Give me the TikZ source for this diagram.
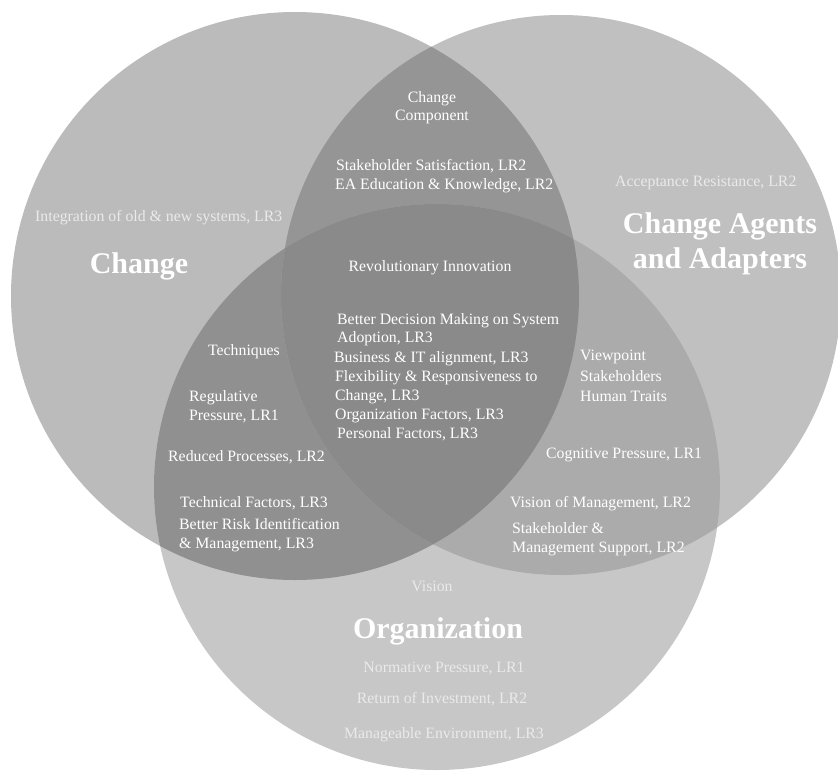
\documentclass[tikz,border=0pt]{standalone}
\usepackage{fontspec}
\setmainfont{Liberation Serif}
\definecolor{cL}{HTML}{BBBBBB}
\definecolor{cR}{HTML}{C0C0C0}
\definecolor{cB}{HTML}{C7C7C7}
\definecolor{cLR}{HTML}{959595}
\definecolor{cLB}{HTML}{909090}
\definecolor{cRB}{HTML}{ABABAB}
\definecolor{cLRB}{HTML}{8A8A8A}
\definecolor{faintwhite}{HTML}{EAEAEA}
\tikzset{
  txt/.style={text=white, font=\fontsize{15.8}{18}\selectfont, inner sep=0pt, yshift=-2.5pt},
  faint/.style={txt, text=faintwhite},
  ttl/.style={text=white, font=\fontsize{30}{36}\selectfont\bfseries, inner sep=0pt, yshift=-5pt},
  lft/.style={anchor=mid west},
  ctr/.style={anchor=mid}
}
\begin{document}
\begin{tikzpicture}[x=1pt,y=-1pt]
\useasboundingbox (0,0) rectangle (838,771);
\clip (0,0) rectangle (838,771);
\fill[white] (0,0) rectangle (838,771);
\coordinate (cl) at (295,296);
\coordinate (cr) at (561,295);
\coordinate (cb) at (437,487);
% single circles
\fill[cL] (cl) circle[radius=284pt];
\fill[cR] (cr) circle[radius=280pt];
\fill[cB] (cb) circle[radius=283pt];
% pairwise overlaps
\begin{scope}
  \clip (cl) circle[radius=284pt];
  \fill[cLR] (cr) circle[radius=280pt];
\end{scope}
\begin{scope}
  \clip (cl) circle[radius=284pt];
  \fill[cLB] (cb) circle[radius=283pt];
\end{scope}
\begin{scope}
  \clip (cr) circle[radius=280pt];
  \fill[cRB] (cb) circle[radius=283pt];
\end{scope}
% triple overlap
\begin{scope}
  \clip (cl) circle[radius=284pt];
  \clip (cr) circle[radius=280pt];
  \fill[cLRB] (cb) circle[radius=283pt];
\end{scope}

% titles
\node[ttl, ctr] (tChange) at (139,266) {Change};
\node[ttl, ctr] (tAg1) at (720,226) {Change Agents};
\node[ttl, ctr] (tAg2) at (720,261) {and Adapters};
\node[ttl, ctr] (tOrg) at (438,631) {Organization};

% top overlap
\node[txt, ctr] (cc1) at (432,98) {Change};
\node[txt, ctr] (cc2) at (432,116) {Component};
\node[txt, lft] (s1) at (336,166) {Stakeholder Satisfaction, LR2};
\node[txt, lft] (s2) at (335,185) {EA Education \& Knowledge, LR2};

% single regions
\node[faint, lft] (integ) at (35,217) {Integration of old \& new systems, LR3};
\node[faint, lft] (acc) at (615,182) {Acceptance Resistance, LR2};

% centre
\node[txt, ctr] (rev) at (430,267) {Revolutionary Innovation};
\node[txt, lft] (c1) at (337,320) {Better Decision Making on System};
\node[txt, lft] (c2) at (337,338) {Adoption, LR3};
\node[txt, lft] (c3) at (334,358) {Business \& IT alignment, LR3};
\node[txt, lft] (c4) at (335,377) {Flexibility \& Responsiveness to};
\node[txt, lft] (c5) at (335,396) {Change, LR3};
\node[txt, lft] (c6) at (335,415) {Organization Factors, LR3};
\node[txt, lft] (c7) at (337,434) {Personal Factors, LR3};

% left-bottom overlap
\node[txt, ctr] (techn) at (244,351) {Techniques};
\node[txt, lft] (reg1) at (189,397) {Regulative};
\node[txt, lft] (reg2) at (189,416) {Pressure, LR1};
\node[txt, lft] (red) at (168,457) {Reduced Processes, LR2};
\node[txt, lft] (tech) at (180,503) {Technical Factors, LR3};
\node[txt, lft] (risk1) at (179,525) {Better Risk Identification};
\node[txt, lft] (risk2) at (179,544) {\& Management, LR3};

% right-bottom overlap
\node[txt, lft] (vp) at (580,356) {Viewpoint};
\node[txt, lft] (sh) at (580,377) {Stakeholders};
\node[txt, lft] (ht) at (580,397) {Human Traits};
\node[txt, lft] (cog) at (546,454) {Cognitive Pressure, LR1};
\node[txt, lft] (vom) at (510,503) {Vision of Management, LR2};
\node[txt, lft] (sm1) at (512,529) {Stakeholder \&};
\node[txt, lft] (sm2) at (512,548) {Management Support, LR2};

% organization only
\node[faint, ctr] (vis) at (432,587) {Vision};
\node[faint, ctr] (norm) at (444,668) {Normative Pressure, LR1};
\node[faint, ctr] (roi) at (442,699) {Return of Investment, LR2};
\node[faint, ctr] (man) at (444,734) {Manageable Environment, LR3};
\end{tikzpicture}
\end{document}
